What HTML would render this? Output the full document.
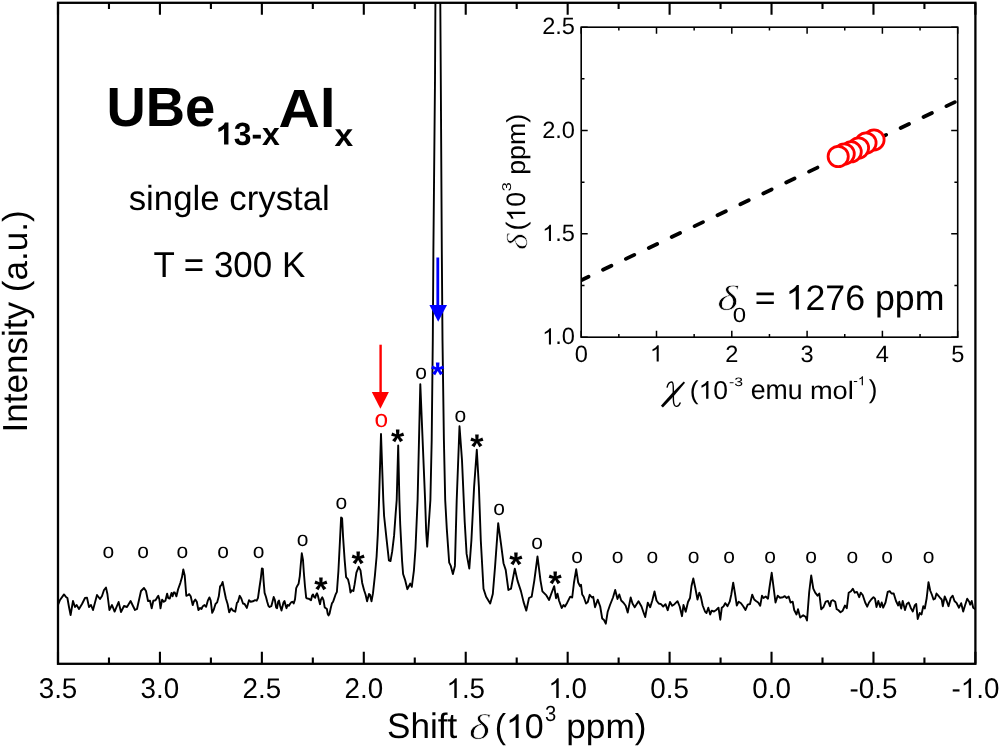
<!DOCTYPE html>
<html><head><meta charset="utf-8"><title>UBe13-xAlx NMR</title><style>
html,body{margin:0;padding:0;background:#fff;overflow:hidden}
svg{display:block;will-change:transform;filter:blur(0.3px)}
text{font-family:"Liberation Sans",sans-serif;fill:#000;text-rendering:geometricPrecision}
.se{font-family:"Liberation Serif",serif;font-style:italic;stroke:#fff;stroke-width:0.6px}
.h1{fill-opacity:0}
</style></head><body>
<svg width="1000" height="747" viewBox="0 0 1000 747">
<defs><clipPath id="cp"><rect x="58" y="2.8" width="917.4" height="661"/></clipPath></defs>
<path d="M58 605 L60 600 L64 594.4 L66 597 L67.4 598 L69 607 L70.6 615 L73 601 L75 607 L76.6 605 L79 609 L82 604 L85 598 L87 597.6 L89 607 L91 605 L93 610 L97 595 L100 599 L102 596 L104 590 L106 587.6 L107.4 594 L109.4 610 L112 605 L114.6 611.6 L118.6 602 L121 612 L124 606 L127 607 L130.6 601 L133 606 L135 610 L137 609 L141 591 L144 588 L146 591 L148 601 L150 600.7 L151.7 608.4 L153.3 600.7 L155.5 600.2 L157.2 597.4 L158.3 595.8 L159.4 599.6 L160.5 608.4 L162.1 599.6 L163.8 601.8 L165.4 600.7 L167.1 593.6 L168.2 598 L169.8 598.5 L171.5 593 L172.6 596.3 L173.7 592.5 L174.8 592.5 L176.4 596.3 L178.1 589.2 L180.3 583.1 L181.9 577.6 L183.3 569.4 L184.7 575.4 L186.3 595.8 L188 595.2 L189.1 594.1 L190.7 596.3 L192.7 605.1 L194 601.3 L195.3 599.6 L196.8 601.8 L198.4 610.1 L200.1 607.9 L201.5 609 L202.8 606.2 L204.5 605.1 L206.1 606.8 L207.8 600.7 L209.4 597.4 L210.7 600.7 L212.2 612.8 L213.8 609.5 L215.5 604 L217.1 602.4 L218.8 596.3 L220.1 586.4 L221.5 584.8 L222.6 582 L224.3 590.8 L225.9 598.5 L227.6 604 L229.2 612.3 L231.2 608.4 L233.1 610.6 L235.3 611.7 L236.9 602.9 L238 601.8 L239.7 595.8 L241.3 598.5 L243 603.5 L244.6 604 L246.8 607.9 L249 600.2 L250.7 601.8 L252.9 601.3 L255.1 600.2 L256.7 600.7 L258 597.8 L259.6 586.5 L260.8 578.5 L261.9 568.4 L262.8 568.8 L263.6 580.9 L264.6 592.9 L266 597 L267.2 601.8 L268.4 605.8 L269.6 607 L271.3 606.2 L272.5 601.8 L273.7 597 L274.9 600.2 L276.1 607.4 L277.1 608.2 L278.1 601.8 L279 600.6 L280.1 605.8 L281.5 610.6 L282.5 606.6 L283.5 602.6 L284.5 601 L285.7 605.8 L286.5 608.2 L287.6 605 L288.9 605.8 L290.1 603.8 L291.3 602.2 L292.5 601.8 L293.7 603.4 L295 599.4 L296.2 588.1 L297.4 585.7 L298.6 583.7 L299.8 576.1 L300.6 566.4 L301.8 553.3 L303 560 L303.8 572 L305 586.5 L306.2 597.8 L307.4 598.6 L308.6 598.6 L309.8 599.4 L311 600.2 L312.2 595.3 L313 594.5 L314.2 597 L315.2 597.8 L316.2 594.5 L317 593.3 L317.8 595.3 L319 600.2 L320 604.2 L321 599.4 L322.3 597.3 L323.5 600.2 L324.7 607.4 L325.9 608.2 L326.9 609 L327.7 613.8 L328.5 615.4 L329.5 613.8 L330.7 608.2 L331.9 603.4 L333.1 601.8 L334 599.1 L335.5 594.7 L336.9 591.8 L338.4 571.2 L339.9 541.8 L341.1 517.5 L342.1 518.2 L343.1 537.4 L344.6 559.4 L346.1 577.1 L348 579.3 L349.4 585.1 L350.5 592.5 L351.9 590.3 L353.4 591 L354.6 584.4 L356.4 572.6 L358.7 566.8 L360.5 570.4 L362.2 582.9 L364.1 590.3 L365.6 594.7 L367.1 601.3 L369 594 L370 594.7 L371.5 601.3 L373 593.2 L374.9 575.6 L376.6 556.5 L377.8 534.4 L378.9 505 L381 434 L383.3 500 L384.1 516 L386.5 538.6 L388.9 560.3 L390.5 561.1 L392.2 551.4 L394.1 535.4 L395.7 512.9 L396.7 500 L398.2 445.4 L399.4 500 L400.2 524.1 L402.1 561.1 L403.1 574 L405 579.6 L407.4 589.2 L409 586 L410.2 583.6 L411.8 586.8 L413.9 570.7 L415.5 548.2 L417.6 500 L420.3 384.1 L425.1 500 L426.2 532.2 L427.2 546.6 L429.1 519.3 L430.4 500 L431.7 440 L432.8 340 L433.4 250 L435 80 L435.4 3 L437.8 -60 L440.3 3 L440.8 80 L441.8 250 L442.5 340 L443.9 440 L445.2 500 L446.8 528.9 L449.2 562.7 L450.8 565.9 L452.9 574 L454.9 565.9 L456.7 500.3 L459.5 426.2 L462 460.2 L464.7 521.7 L466.6 553.9 L469.3 568.6 L471.4 540.5 L474.1 486.9 L476.8 449.8 L478.9 486.9 L480.8 540.5 L483.5 588.7 L486.1 596.7 L490.2 603.4 L492.8 594 L495 567.3 L498.2 523.1 L500.9 543.2 L503.5 563.2 L505.7 569.9 L508.4 590 L511 588.7 L514.8 568.6 L517.5 580.6 L521 591.4 L523.6 602.1 L526.3 610.6 L529 598 L531.7 596.7 L534.3 580.6 L537.5 556.5 L540.5 580.6 L542.4 591.4 L546.4 595.4 L549.1 599.9 L551.2 594 L554.2 586.2 L556 598.2 L557.5 593.7 L559 600.5 L561.7 608 L563.5 605 L565 606.5 L567.2 602.7 L570.2 596.7 L572.2 597.5 L574 582.5 L576.2 569.3 L578.2 582.5 L580 586.2 L581 584.7 L582.2 594.5 L583.7 596.7 L586 603.5 L587.8 602 L589.7 594.8 L592 597.5 L593.2 596.7 L595 607.2 L597.7 599.7 L600.2 606.5 L602.2 618.5 L604 620 L605.8 623.7 L607.7 611.7 L610 605 L613 597.5 L615.2 590 L617.5 599 L619.3 594.5 L621.2 600.5 L623.5 602.7 L625.7 605.7 L627.7 612.5 L630.7 597.5 L632.5 603.5 L634.7 607.2 L638.5 601.2 L641.5 606.5 L643.3 611.7 L645.2 617 L647.8 602.7 L650.2 607.2 L652.3 600.5 L654.5 591.5 L656.5 600.5 L658.7 603.5 L661 604.2 L663.2 606.5 L665.5 604.2 L667.7 610.2 L670 602 L672.2 605.7 L674.5 604.2 L677.5 601.2 L679.7 606.5 L682 616.2 L683.5 605 L685.7 611.7 L688 602 L690 598 L691.5 586 L693.3 578.5 L695.2 587.5 L697.5 599.5 L699.3 592.7 L700.8 596.5 L702.7 605.5 L705 611.5 L706.5 613 L708.3 607.7 L710.2 614.5 L711.7 610.7 L714 611.5 L716.2 610 L718.5 607.7 L720.3 619.7 L721.8 607.7 L723.7 606.2 L725.2 603.2 L727.5 606.2 L729.7 601.7 L731.2 595 L733.2 582.7 L735 593.5 L736.8 605.5 L738.7 601.7 L741 603.2 L743.2 606.2 L745.5 610 L747.7 604.7 L750 604 L752.2 594.7 L754.2 599.5 L756 601 L758.2 602.5 L760.2 605.8 L762 595.7 L763.5 598 L765.7 596.5 L768 598.7 L769.5 587.5 L771.7 572.8 L773.2 584.5 L775.5 602.5 L777.7 595.7 L780 597.7 L783 597.2 L784.8 596.2 L786.7 598 L788.7 596.5 L790.5 602.5 L792.7 601.7 L794.2 610 L796.5 614.5 L798 609.2 L800.2 617.5 L803.2 615.2 L805.5 616.7 L807 620.5 L809.2 592 L811.2 575.5 L813.3 588.7 L815.2 592.7 L817.5 595.7 L819.3 593.5 L821.2 609.2 L823.5 607 L825.7 601.7 L828 601 L830 606.2 L831.2 601 L833 600.2 L835.2 601.7 L836.7 609.2 L838.2 610 L840.5 612.2 L842.7 610.7 L845 605.5 L846.8 608.2 L848.7 592.7 L851 591.2 L852.8 588.7 L854.7 592.7 L857 592 L859.2 597.2 L860.7 592.7 L862.7 595 L865.2 602.5 L867.2 606.7 L869 602.5 L871.2 599.5 L873.5 597.2 L875 598.7 L876.5 607 L878.3 601 L880.2 607 L881.7 602.5 L883.2 607.7 L885.5 602.5 L887.7 592 L889.7 591.2 L891.5 593.5 L893.7 593.5 L896 601 L898.2 605.5 L899.3 601.7 L901.2 608.5 L902.7 601 L905 610 L906.8 604 L908.7 602.5 L910.7 607.7 L912.8 611.5 L914.7 605.5 L916.2 604 L917.7 619 L919.7 613 L921.5 614.5 L923.3 606.2 L924.8 608.5 L926.7 598 L928.5 582.2 L930.2 590.5 L932 595 L933.5 599.5 L935 598.7 L936.5 593.5 L938.3 595.7 L940.2 598 L941.7 599.5 L942.8 606.2 L944.7 596.5 L946.7 601 L948.5 606.2 L950.7 598 L952.7 595.7 L954.5 601 L956.7 603.2 L959 607.7 L961.2 603.2 L963.2 611.5 L965 605.5 L967.2 598.7 L969.2 601.7 L970.2 604.7 L971.7 601 L973.2 607.7 L975.4 609.2" fill="none" stroke="#000" stroke-width="1.9" stroke-linejoin="round" clip-path="url(#cp)"/>
<path d="M58 663.8V651.8M58 2.8V14.8M108.97 663.8V657.6M108.97 2.8V9M159.93 663.8V651.8M159.93 2.8V14.8M210.9 663.8V657.6M210.9 2.8V9M261.87 663.8V651.8M261.87 2.8V14.8M312.83 663.8V657.6M312.83 2.8V9M363.8 663.8V651.8M363.8 2.8V14.8M414.77 663.8V657.6M414.77 2.8V9M465.73 663.8V651.8M465.73 2.8V14.8M516.7 663.8V657.6M516.7 2.8V9M567.67 663.8V651.8M567.67 2.8V14.8M618.63 663.8V657.6M618.63 2.8V9M669.6 663.8V651.8M669.6 2.8V14.8M720.57 663.8V657.6M720.57 2.8V9M771.53 663.8V651.8M771.53 2.8V14.8M822.5 663.8V657.6M822.5 2.8V9M873.47 663.8V651.8M873.47 2.8V14.8M924.43 663.8V657.6M924.43 2.8V9M975.4 663.8V651.8M975.4 2.8V14.8" stroke="#000" stroke-width="2.1" fill="none"/>
<rect x="58" y="2.8" width="917.4" height="661" fill="none" stroke="#000" stroke-width="2.3"/>
<text transform="translate(58 697.9) scale(0.975 1)" font-size="28.5" text-anchor="middle">3.5</text>
<text transform="translate(159.93 697.9) scale(0.975 1)" font-size="28.5" text-anchor="middle">3.0</text>
<text transform="translate(261.87 697.9) scale(0.975 1)" font-size="28.5" text-anchor="middle">2.5</text>
<text transform="translate(363.8 697.9) scale(0.975 1)" font-size="28.5" text-anchor="middle">2.0</text>
<text transform="translate(465.73 697.9) scale(0.975 1)" font-size="28.5" text-anchor="middle"><tspan class="h1">1</tspan>.5</text>
<text transform="translate(567.67 697.9) scale(0.975 1)" font-size="28.5" text-anchor="middle"><tspan class="h1">1</tspan>.0</text>
<text transform="translate(669.6 697.9) scale(0.975 1)" font-size="28.5" text-anchor="middle">0.5</text>
<text transform="translate(771.53 697.9) scale(0.975 1)" font-size="28.5" text-anchor="middle">0.0</text>
<text transform="translate(873.47 697.9) scale(0.975 1)" font-size="28.5" text-anchor="middle">-0.5</text>
<text transform="translate(975.4 697.9) scale(0.975 1)" font-size="28.5" text-anchor="middle">-<tspan class="h1">1</tspan>.0</text>
<text x="108.4" y="558.1" font-size="21" text-anchor="middle">o</text>
<text x="143" y="558.1" font-size="21" text-anchor="middle">o</text>
<text x="182.3" y="558.1" font-size="21" text-anchor="middle">o</text>
<text x="223" y="558.1" font-size="21" text-anchor="middle">o</text>
<text x="258.6" y="558.1" font-size="21" text-anchor="middle">o</text>
<text x="577" y="563" font-size="21" text-anchor="middle">o</text>
<text x="617.6" y="563" font-size="21" text-anchor="middle">o</text>
<text x="652.4" y="563" font-size="21" text-anchor="middle">o</text>
<text x="693.6" y="563" font-size="21" text-anchor="middle">o</text>
<text x="729" y="563" font-size="21" text-anchor="middle">o</text>
<text x="770" y="563" font-size="21" text-anchor="middle">o</text>
<text x="811" y="563" font-size="21" text-anchor="middle">o</text>
<text x="852.4" y="563" font-size="21" text-anchor="middle">o</text>
<text x="887" y="563" font-size="21" text-anchor="middle">o</text>
<text x="928.6" y="563" font-size="21" text-anchor="middle">o</text>
<text x="302.6" y="545.7" font-size="21" text-anchor="middle">o</text>
<text x="341.4" y="508.5" font-size="21" text-anchor="middle">o</text>
<text x="421.2" y="379.3" font-size="21" text-anchor="middle">o</text>
<text x="460.4" y="421.6" font-size="21" text-anchor="middle">o</text>
<text x="499" y="515.2" font-size="21" text-anchor="middle">o</text>
<text x="537" y="548.7" font-size="21" text-anchor="middle">o</text>
<text x="381.4" y="427.4" font-size="24.5" text-anchor="middle" style="fill:#f00">o</text>
<text x="320.9" y="601.1" font-size="34" font-weight="bold" text-anchor="middle">*</text>
<text x="358" y="575.2" font-size="34" font-weight="bold" text-anchor="middle">*</text>
<text x="397.5" y="452.5" font-size="34" font-weight="bold" text-anchor="middle">*</text>
<text x="476.8" y="458" font-size="34" font-weight="bold" text-anchor="middle">*</text>
<text x="515.8" y="575.9" font-size="34" font-weight="bold" text-anchor="middle">*</text>
<text x="555.1" y="594.8" font-size="34" font-weight="bold" text-anchor="middle">*</text>
<text x="437.6" y="385.9" font-size="34" font-weight="bold" text-anchor="middle" style="fill:#00f">*</text>
<path d="M380.6 344.7V393" stroke="#f00" stroke-width="2.4"/>
<path d="M371.8 391.9H388.9L380.4 408.8Z" fill="#f00"/>
<path d="M437.8 257.5V306" stroke="#00f" stroke-width="2.8"/>
<path d="M429.4 305.1H447L438.2 321.7Z" fill="#00f"/>
<rect x="581.2" y="27.2" width="376.5" height="310" fill="#fff" stroke="none"/>
<defs><clipPath id="ic"><rect x="581.2" y="27.2" width="376.5" height="310"/></clipPath></defs>
<line x1="581.2" y1="280.16" x2="957.7" y2="100.77" stroke="#000" stroke-width="3.8" stroke-linecap="round" stroke-dasharray="9.28 16.08" stroke-dashoffset="1.2" clip-path="url(#ic)"/>
<circle cx="874" cy="139.9" r="10.1" fill="#fff" stroke="#f00" stroke-width="2.8"/>
<circle cx="866" cy="143" r="10.1" fill="#fff" stroke="#f00" stroke-width="2.8"/>
<circle cx="858.5" cy="148" r="10.1" fill="#fff" stroke="#f00" stroke-width="2.8"/>
<circle cx="851.2" cy="151.8" r="10.1" fill="#fff" stroke="#f00" stroke-width="2.8"/>
<circle cx="844.2" cy="154" r="10.1" fill="#fff" stroke="#f00" stroke-width="2.8"/>
<circle cx="838.2" cy="156.5" r="10.1" fill="#fff" stroke="#f00" stroke-width="2.8"/>
<path d="M581.2 337.2V330.7M581.2 27.2V33.7M618.85 337.2V333.9M618.85 27.2V30.5M656.5 337.2V330.7M656.5 27.2V33.7M694.15 337.2V333.9M694.15 27.2V30.5M731.8 337.2V330.7M731.8 27.2V33.7M769.45 337.2V333.9M769.45 27.2V30.5M807.1 337.2V330.7M807.1 27.2V33.7M844.75 337.2V333.9M844.75 27.2V30.5M882.4 337.2V330.7M882.4 27.2V33.7M920.05 337.2V333.9M920.05 27.2V30.5M957.7 337.2V330.7M957.7 27.2V33.7M581.2 337.2H587.7M957.7 337.2H951.2M581.2 285.53H584.5M957.7 285.53H954.4M581.2 233.87H587.7M957.7 233.87H951.2M581.2 182.2H584.5M957.7 182.2H954.4M581.2 130.53H587.7M957.7 130.53H951.2M581.2 78.87H584.5M957.7 78.87H954.4M581.2 27.2H587.7M957.7 27.2H951.2" stroke="#000" stroke-width="1.5" fill="none"/>
<rect x="581.2" y="27.2" width="376.5" height="310" fill="none" stroke="#000" stroke-width="1.6"/>
<text x="581.2" y="361.5" font-size="23.6" text-anchor="middle">0</text>
<text x="656.5" y="361.5" font-size="23.6" text-anchor="middle"><tspan class="h1">1</tspan></text>
<text x="731.8" y="361.5" font-size="23.6" text-anchor="middle">2</text>
<text x="807.1" y="361.5" font-size="23.6" text-anchor="middle">3</text>
<text x="882.4" y="361.5" font-size="23.6" text-anchor="middle">4</text>
<text x="957.7" y="361.5" font-size="23.6" text-anchor="middle">5</text>
<text x="575" y="344.4" font-size="23.6" text-anchor="end"><tspan class="h1">1</tspan>.0</text>
<text x="575" y="241.07" font-size="23.6" text-anchor="end"><tspan class="h1">1</tspan>.5</text>
<text x="575" y="137.73" font-size="23.6" text-anchor="end">2.0</text>
<text x="575" y="34.4" font-size="23.6" text-anchor="end">2.5</text>
<text transform="translate(106.48 125.81) scale(0.9720 0.9850)" font-size="56" font-weight="bold">UBe</text>
<text transform="translate(215.86 144.62) scale(0.9688 0.9750)" font-size="33" font-weight="bold"><tspan class="h1">1</tspan>3-x</text>
<text transform="translate(278.46 126.50) scale(1.0220 0.9634)" font-size="56" font-weight="bold">Al</text>
<text transform="translate(334.48 145.70) scale(1.0176 0.9667)" font-size="33" font-weight="bold">x</text>
<text transform="translate(128.69 209.96) scale(1.0061 1.0062)" font-size="34.6">single crystal</text>
<text transform="translate(153.39 276.60) scale(1.0101 1.0417)" font-size="34.6">T = 300 K</text>
<text transform="translate(27.16 432.44) scale(1.0063 1.0136) rotate(-90)" font-size="34.6">Intensity (a.u.)</text>
<text transform="translate(386.97 738.20) scale(1.0149 1.0240)" font-size="34.6">Shift</text>
<text transform="translate(468.91 738.70) scale(1.2867 1.0375)" font-size="34.6" class="se">δ</text>
<text transform="translate(494.63 737.92) scale(0.9830 0.9969)" font-size="34.6">(<tspan class="h1">1</tspan>0</text>
<text transform="translate(544.99 721.40) scale(1.0111 1.1000)" font-size="20">3</text>
<text transform="translate(566.26 738.10) scale(1.0187 1.0000)" font-size="34.6">ppm)</text>
<text transform="translate(689.77 398.85) scale(1.0171 0.9920)" font-size="26">(<tspan class="h1">1</tspan>0</text>
<text transform="translate(729.07 385.60) scale(1.1273 0.8800)" font-size="14">-3</text>
<text transform="translate(750.77 399.20) scale(1.0250 1.0571)" font-size="26">emu</text>
<text transform="translate(809.91 398.80) scale(1.0474 0.9684)" font-size="26">mol</text>
<text transform="translate(853.22 385.20) scale(0.9818 0.9333)" font-size="14">-<tspan class="h1">1</tspan></text>
<text transform="translate(868.80 398.45) scale(1.0000 0.9920)" font-size="26">)</text>
<text transform="translate(527.10 250.09) scale(0.9667 1.1923) rotate(-90)" font-size="30" class="se">δ</text>
<text transform="translate(525.23 230.55) scale(1.0280 1.0235) rotate(-90)" font-size="26">(<tspan class="h1">1</tspan>0</text>
<text transform="translate(510.50 191.17) scale(0.9100 1.1667) rotate(-90)" font-size="14">3</text>
<text transform="translate(525.40 174.86) scale(1.0000 1.0286) rotate(-90)" font-size="26">ppm)</text>
<text transform="translate(717.31 310.10) scale(1.2867 1.0292)" font-size="34.6" class="se">δ</text>
<text transform="translate(732.70 322.30) scale(1.2000 1.0286)" font-size="20">0</text>
<text transform="translate(754.73 309.60) scale(1.0335 1.0290)" font-size="34.6">= <tspan class="h1">1</tspan>276 ppm</text>
<path d="M662.93 407.55 L674.29 395.45 L685.02 382.78 L683.78 381.62 L672.01 393.35 L660.87 405.65Z" fill="#000"/>
<path d="M667 387.6C667.8 384 670 381.9 671.8 382C673.6 382.2 673.3 386.5 673.3 391L673.4 400C673.5 404.5 674.8 406.6 676.6 406.4C678.4 406.2 679.6 404.4 680.4 402.4" stroke="#000" stroke-width="1.4" fill="none"/>
<g id="ones">
<path transform="translate(465.73 697.9) scale(0.975 1) translate(-19.820 0.000) scale(0.013916 -0.013318)" d="M763 0L583 0L583 1147Q518 1085 415 1024.5Q312 964 223 931L223 1105Q374 1176 487 1276Q600 1376 647 1472L763 1472Z" fill="rgb(0, 0, 0)"/>
<path transform="translate(567.67 697.9) scale(0.975 1) translate(-19.820 0.000) scale(0.013916 -0.013318)" d="M763 0L583 0L583 1147Q518 1085 415 1024.5Q312 964 223 931L223 1105Q374 1176 487 1276Q600 1376 647 1472L763 1472Z" fill="rgb(0, 0, 0)"/>
<path transform="translate(975.4 697.9) scale(0.975 1) translate(-15.070 0.000) scale(0.013916 -0.013318)" d="M763 0L583 0L583 1147Q518 1085 415 1024.5Q312 964 223 931L223 1105Q374 1176 487 1276Q600 1376 647 1472L763 1472Z" fill="rgb(0, 0, 0)"/>
<path transform="translate(649.938 361.500) scale(0.011523 -0.011028)" d="M763 0L583 0L583 1147Q518 1085 415 1024.5Q312 964 223 931L223 1105Q374 1176 487 1276Q600 1376 647 1472L763 1472Z" fill="rgb(0, 0, 0)"/>
<path transform="translate(542.188 344.400) scale(0.011523 -0.011028)" d="M763 0L583 0L583 1147Q518 1085 415 1024.5Q312 964 223 931L223 1105Q374 1176 487 1276Q600 1376 647 1472L763 1472Z" fill="rgb(0, 0, 0)"/>
<path transform="translate(542.188 241.070) scale(0.011523 -0.011028)" d="M763 0L583 0L583 1147Q518 1085 415 1024.5Q312 964 223 931L223 1105Q374 1176 487 1276Q600 1376 647 1472L763 1472Z" fill="rgb(0, 0, 0)"/>
<path transform="translate(215.86 144.62) scale(0.9688 0.9750) translate(0.000 0.000) scale(0.016113 -0.015420)" d="M806 0L525 0L525 1059Q371 915 162 847L162 1102Q272 1138 401 1238Q530 1338 578 1472L806 1472Z" fill="rgb(0, 0, 0)"/>
<path transform="translate(494.63 737.92) scale(0.9830 0.9969) translate(11.516 0.000) scale(0.016895 -0.016168)" d="M763 0L583 0L583 1147Q518 1085 415 1024.5Q312 964 223 931L223 1105Q374 1176 487 1276Q600 1376 647 1472L763 1472Z" fill="rgb(0, 0, 0)"/>
<path transform="translate(689.77 398.85) scale(1.0171 0.9920) translate(8.672 0.000) scale(0.012695 -0.012149)" d="M763 0L583 0L583 1147Q518 1085 415 1024.5Q312 964 223 931L223 1105Q374 1176 487 1276Q600 1376 647 1472L763 1472Z" fill="rgb(0, 0, 0)"/>
<path transform="translate(853.22 385.20) scale(0.9818 0.9333) translate(4.672 0.000) scale(0.006836 -0.006542)" d="M763 0L583 0L583 1147Q518 1085 415 1024.5Q312 964 223 931L223 1105Q374 1176 487 1276Q600 1376 647 1472L763 1472Z" fill="rgb(0, 0, 0)"/>
<path transform="translate(525.23 230.55) scale(1.0280 1.0235) rotate(-90) translate(8.672 0.000) scale(0.012695 -0.012149)" d="M763 0L583 0L583 1147Q518 1085 415 1024.5Q312 964 223 931L223 1105Q374 1176 487 1276Q600 1376 647 1472L763 1472Z" fill="rgb(0, 0, 0)"/>
<path transform="translate(754.73 309.60) scale(1.0335 1.0290) translate(29.812 0.000) scale(0.016895 -0.016168)" d="M763 0L583 0L583 1147Q518 1085 415 1024.5Q312 964 223 931L223 1105Q374 1176 487 1276Q600 1376 647 1472L763 1472Z" fill="rgb(0, 0, 0)"/>
</g>
</svg></body></html>
